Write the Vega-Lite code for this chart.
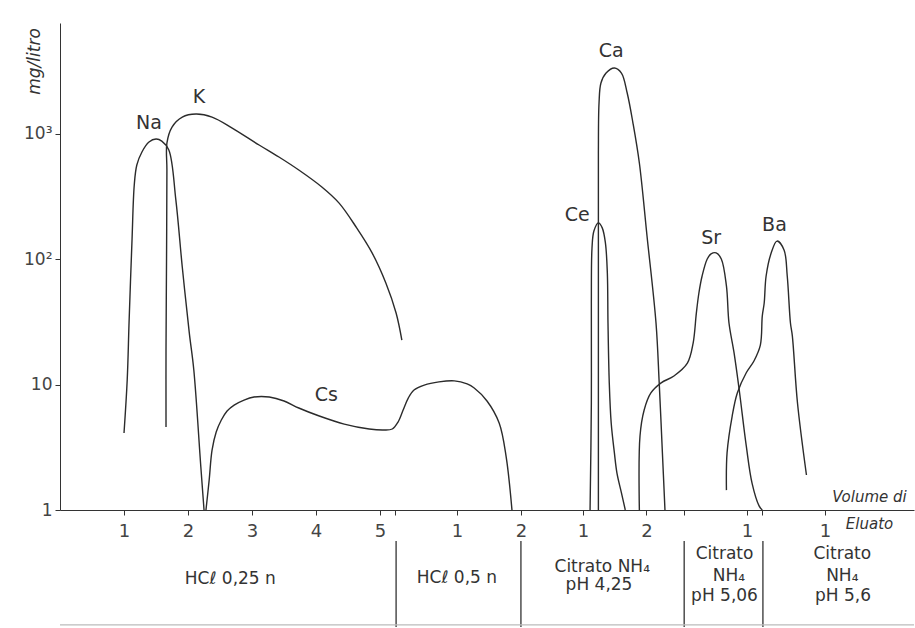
{
  "$schema": "https://vega.github.io/schema/vega-lite/v6.json",
  "background": "white",
  "padding": {"left": 23, "top": 23, "right": 0, "bottom": 0},
  "spacing": 0,
  "config": {"view": {"stroke": null}, "font": "DejaVu Sans", "text": {"color": "#333"}},
  "datasets": {
    "curves": [
      {"ion":"Na","v":1.0,"c":4.11},{"ion":"Na","v":1.05,"c":10.9},{"ion":"Na","v":1.08,"c":32.7},{"ion":"Na","v":1.125,"c":142},{"ion":"Na","v":1.16,"c":389},{"ion":"Na","v":1.2,"c":561},{"ion":"Na","v":1.28,"c":713},{"ion":"Na","v":1.39,"c":855},{"ion":"Na","v":1.5,"c":904},{"ion":"Na","v":1.59,"c":871},{"ion":"Na","v":1.7,"c":739},{"ion":"Na","v":1.81,"c":295},{"ion":"Na","v":1.91,"c":86.3},{"ion":"Na","v":2.02,"c":25.7},{"ion":"Na","v":2.09,"c":13.1},{"ion":"Na","v":2.2,"c":2.2},{"ion":"Na","v":2.25,"c":1},
      {"ion":"K","v":1.656,"c":4.59},{"ion":"K","v":1.656,"c":18.8},{"ion":"K","v":1.665,"c":118},{"ion":"K","v":1.67,"c":512},{"ion":"K","v":1.67,"c":840},{"ion":"K","v":1.75,"c":1127},{"ion":"K","v":1.91,"c":1353},{"ion":"K","v":2.125,"c":1430},{"ion":"K","v":2.375,"c":1353},{"ion":"K","v":2.69,"c":1106},{"ion":"K","v":3.11,"c":810},{"ion":"K","v":3.42,"c":650},{"ion":"K","v":3.73,"c":512},{"ion":"K","v":4.09,"c":375},{"ion":"K","v":4.36,"c":279},{"ion":"K","v":4.625,"c":180},{"ion":"K","v":4.875,"c":112},{"ion":"K","v":5.09,"c":64.4},{"ion":"K","v":5.25,"c":37.1},{"ion":"K","v":5.34,"c":22.6},
      {"ion":"Cs","v":2.28,"c":1},{"ion":"Cs","v":2.33,"c":1.73},{"ion":"Cs","v":2.375,"c":3.0},{"ion":"Cs","v":2.44,"c":4.18},{"ion":"Cs","v":2.52,"c":5.21},{"ion":"Cs","v":2.61,"c":6.15},{"ion":"Cs","v":2.72,"c":6.86},{"ion":"Cs","v":2.875,"c":7.52},{"ion":"Cs","v":3.03,"c":7.95},{"ion":"Cs","v":3.27,"c":7.95},{"ion":"Cs","v":3.5,"c":7.39},{"ion":"Cs","v":3.73,"c":6.5},{"ion":"Cs","v":4.05,"c":5.61},{"ion":"Cs","v":4.44,"c":4.84},{"ion":"Cs","v":4.83,"c":4.42},{"ion":"Cs","v":5.06,"c":4.34},{"ion":"Cs","v":5.19,"c":4.42},{"ion":"Cs","v":5.28,"c":5.02},{"ion":"Cs","v":5.36,"c":6.26},{"ion":"Cs","v":5.44,"c":7.8},{"ion":"Cs","v":5.53,"c":9.04},{"ion":"Cs","v":5.69,"c":9.9},{"ion":"Cs","v":5.92,"c":10.5},{"ion":"Cs","v":6.16,"c":10.7},{"ion":"Cs","v":6.36,"c":10.1},{"ion":"Cs","v":6.47,"c":9.38},{"ion":"Cs","v":6.67,"c":7.39},{"ion":"Cs","v":6.86,"c":4.93},{"ion":"Cs","v":6.97,"c":2.64},{"ion":"Cs","v":7.06,"c":1},
      {"ion":"Ce","v":8.28,"c":1},{"ion":"Ce","v":8.3,"c":7.12},{"ion":"Ce","v":8.3,"c":44.6},{"ion":"Ce","v":8.31,"c":122},{"ion":"Ce","v":8.34,"c":167},{"ion":"Ce","v":8.41,"c":194},{"ion":"Ce","v":8.47,"c":177},{"ion":"Ce","v":8.52,"c":134},{"ion":"Ce","v":8.55,"c":77},{"ion":"Ce","v":8.56,"c":30.9},{"ion":"Ce","v":8.58,"c":10.3},{"ion":"Ce","v":8.61,"c":4.93},{"ion":"Ce","v":8.66,"c":2.85},{"ion":"Ce","v":8.7,"c":1.97},{"ion":"Ce","v":8.77,"c":1.37},{"ion":"Ce","v":8.83,"c":1},
      {"ion":"Ca","v":8.41,"c":1},{"ion":"Ca","v":8.41,"c":7.12},{"ion":"Ca","v":8.41,"c":112},{"ion":"Ca","v":8.41,"c":700},{"ion":"Ca","v":8.42,"c":1750},{"ion":"Ca","v":8.45,"c":2525},{"ion":"Ca","v":8.53,"c":3034},{"ion":"Ca","v":8.66,"c":3326},{"ion":"Ca","v":8.77,"c":3034},{"ion":"Ca","v":8.86,"c":2103},{"ion":"Ca","v":8.95,"c":1213},{"ion":"Ca","v":9.05,"c":582},{"ion":"Ca","v":9.17,"c":152},{"ion":"Ca","v":9.31,"c":30.9},{"ion":"Ca","v":9.36,"c":10.3},{"ion":"Ca","v":9.41,"c":2.85},{"ion":"Ca","v":9.45,"c":1},
      {"ion":"Sr","v":9.05,"c":1},{"ion":"Sr","v":9.06,"c":3.89},{"ion":"Sr","v":9.125,"c":6.26},{"ion":"Sr","v":9.23,"c":8.56},{"ion":"Sr","v":9.39,"c":10.3},{"ion":"Sr","v":9.59,"c":11.7},{"ion":"Sr","v":9.8,"c":14.8},{"ion":"Sr","v":9.89,"c":21.4},{"ion":"Sr","v":9.94,"c":37.1},{"ion":"Sr","v":9.98,"c":53.6},{"ion":"Sr","v":10.03,"c":73.2},{"ion":"Sr","v":10.11,"c":100},{"ion":"Sr","v":10.17,"c":110},{"ion":"Sr","v":10.25,"c":112},{"ion":"Sr","v":10.33,"c":100},{"ion":"Sr","v":10.41,"c":61},{"ion":"Sr","v":10.45,"c":30.9},{"ion":"Sr","v":10.53,"c":17.8},{"ion":"Sr","v":10.61,"c":9.04},{"ion":"Sr","v":10.72,"c":3.24},{"ion":"Sr","v":10.81,"c":1.64},{"ion":"Sr","v":10.92,"c":1.08},{"ion":"Sr","v":10.97,"c":1},
      {"ion":"Ba","v":10.41,"c":1.44},{"ion":"Ba","v":10.42,"c":2.85},{"ion":"Ba","v":10.5,"c":5.61},{"ion":"Ba","v":10.58,"c":8.56},{"ion":"Ba","v":10.72,"c":12.4},{"ion":"Ba","v":10.84,"c":15.4},{"ion":"Ba","v":10.94,"c":20.6},{"ion":"Ba","v":10.97,"c":35.1},{"ion":"Ba","v":11.0,"c":44.6},{"ion":"Ba","v":11.03,"c":73.2},{"ion":"Ba","v":11.11,"c":112},{"ion":"Ba","v":11.2,"c":139},{"ion":"Ba","v":11.31,"c":118},{"ion":"Ba","v":11.36,"c":73.2},{"ion":"Ba","v":11.41,"c":30.9},{"ion":"Ba","v":11.44,"c":24.3},{"ion":"Ba","v":11.52,"c":7.12},{"ion":"Ba","v":11.66,"c":1.9}
    ],
    "ionLabels": [
      {"ion":"Na","v":1.39,"c":1213},{"ion":"K","v":2.17,"c":1954},{"ion":"Cs","v":4.16,"c":8.25},{"ion":"Ce","v":8.08,"c":224},{"ion":"Ca","v":8.61,"c":4541},{"ion":"Sr","v":10.17,"c":147},{"ion":"Ba","v":11.16,"c":187}
    ],
    "separators": [{"v":5.25},{"v":7.2},{"v":9.75},{"v":10.98}],
    "border": [{"from":0,"to":13.34,"line":4.4}],
    "eluents": [
      {"text":"HCℓ 0,25 n","v":2.66,"line":2.2},
      {"text":"HCℓ 0,5 n","v":6.2,"line":2.15},
      {"text":"Citrato  NH₄","v":8.47,"line":1.62},
      {"text":"pH 4,25","v":8.42,"line":2.52},
      {"text":"Citrato","v":10.38,"line":1.0},
      {"text":"NH₄","v":10.45,"line":2.05},
      {"text":"pH 5,06","v":10.38,"line":3.0},
      {"text":"Citrato","v":12.22,"line":1.0},
      {"text":"NH₄","v":12.22,"line":2.05},
      {"text":"pH 5,6","v":12.23,"line":3.0}
    ]
  },
  "vconcat": [
    {
      "width": 854,
      "height": 487,
      "layer": [
        {
          "data": {"name": "curves"},
          "mark": {"type": "line", "interpolate": "catmull-rom", "color": "#2b2b2b", "strokeWidth": 1.4},
          "encoding": {
            "x": {"field": "v", "type": "quantitative",
              "scale": {"domain": [0, 13.34], "nice": false, "zero": false},
              "axis": {
                "values": [1,2,3,4,5,5.23,6.2,7.2,8.17,9.16,9.75,10.73,10.97,11.95],
                "labelExpr": "datum.value <= 5 ? format(datum.value, 'd') : (datum.value == 6.2 || datum.value == 8.17 || datum.value == 10.73 || datum.value == 11.95) ? '1' : (datum.value == 7.2 || datum.value == 9.16) ? '2' : ''",
                "grid": false, "domainColor": "#333", "tickColor": "#333", "tickSize": 5,
                "labelFontSize": 18, "labelColor": "#444", "labelPadding": 7, "labelFlush": false, "labelOverlap": false,
                "title": ["Volume di", "Eluato"], "titleFontStyle": "italic", "titleFontWeight": "normal", "titleFontSize": 15,
                "titleColor": "#333", "titleX": 809, "titleY": -9, "titleAlign": "center", "titleBaseline": "alphabetic", "titleLineHeight": 27
              }},
            "y": {"field": "c", "type": "quantitative",
              "scale": {"type": "log", "domain": [1, 7600], "nice": false},
              "axis": {
                "values": [1, 10, 100, 1000],
                "labelExpr": "datum.value == 1 ? '1' : datum.value == 10 ? '10' : datum.value == 100 ? '10²' : '10³'",
                "grid": false, "domainColor": "#333", "tickColor": "#333", "tickSize": 5,
                "labelFontSize": 17, "labelColor": "#444", "labelPadding": 3,
                "title": "mg/litro", "titleFontStyle": "italic", "titleFontWeight": "normal", "titleFontSize": 17, "titleColor": "#333",
                "titleAngle": -90, "titleX": -26, "titleY": 38, "titleAlign": "center", "titleBaseline": "middle"
              }},
            "detail": {"field": "ion"},
            "order": {"value": null}
          }
        },
        {
          "data": {"name": "ionLabels"},
          "mark": {"type": "text", "fontSize": 19, "color": "#333", "baseline": "middle", "align": "center"},
          "encoding": {
            "x": {"field": "v", "type": "quantitative"},
            "y": {"field": "c", "type": "quantitative"},
            "text": {"field": "ion"}
          }
        }
      ]
    },
    {
      "width": 854,
      "height": 86,
      "layer": [
        {
          "data": {"name": "separators"},
          "mark": {"type": "rule", "color": "#333", "strokeWidth": 1.3},
          "encoding": {
            "x": {"field": "v", "type": "quantitative", "scale": {"domain": [0, 13.34], "nice": false, "zero": false}, "axis": null},
            "y": {"datum": 0.4, "type": "quantitative", "scale": {"domain": [0.4, 4.5], "reverse": true, "nice": false, "zero": false}, "axis": null},
            "y2": {"datum": 4.5}
          }
        },
        {
          "data": {"name": "border"},
          "mark": {"type": "rule", "color": "#bbb", "strokeWidth": 1.2},
          "encoding": {
            "x": {"field": "from", "type": "quantitative"},
            "x2": {"field": "to"},
            "y": {"field": "line", "type": "quantitative"}
          }
        },
        {
          "data": {"name": "eluents"},
          "mark": {"type": "text", "fontSize": 17, "color": "#333", "baseline": "middle", "align": "center"},
          "encoding": {
            "x": {"field": "v", "type": "quantitative"},
            "y": {"field": "line", "type": "quantitative"},
            "text": {"field": "text"}
          }
        }
      ]
    }
  ]
}
